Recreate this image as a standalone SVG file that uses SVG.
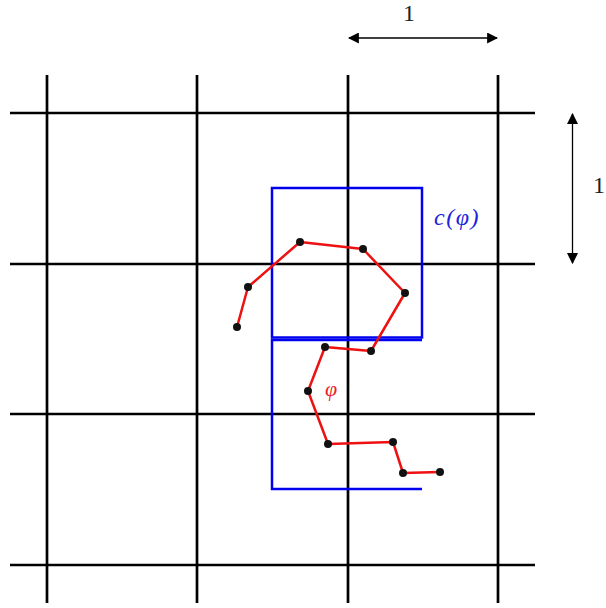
<svg xmlns="http://www.w3.org/2000/svg" width="606" height="608" viewBox="0 0 606 608">
<style>
.grid{stroke:#000;stroke-width:2.7;fill:none}
.blue{stroke:#0000ee;stroke-width:2.5;fill:none}
.red{stroke:#ee1111;stroke-width:2.5;fill:none;stroke-linejoin:round}
.dot{fill:#111}
.dim{stroke:#000;stroke-width:1.3;fill:none}
.t{font-family:"Liberation Serif",serif;font-size:24px;fill:#222}
</style>
<defs>
<marker id="ah" viewBox="0 0 10 10" refX="9" refY="5" markerWidth="11" markerHeight="11" markerUnits="userSpaceOnUse" orient="auto-start-reverse">
<path d="M0,0 L10,5 L0,10 Z" fill="#000"/>
</marker>
</defs>
<rect width="606" height="608" fill="#fff"/>
<g id="grid" class="grid">
<line x1="47" y1="75" x2="47" y2="603"/>
<line x1="197" y1="75" x2="197" y2="603"/>
<line x1="348" y1="75" x2="348" y2="603"/>
<line x1="498" y1="75" x2="498" y2="603"/>
<line x1="10" y1="113" x2="535" y2="113"/>
<line x1="10" y1="264" x2="535" y2="264"/>
<line x1="10" y1="414" x2="535" y2="414"/>
<line x1="10" y1="565" x2="535" y2="565"/>
</g>
<g id="dims">
<line class="dim" x1="349" y1="38" x2="497" y2="38" marker-start="url(#ah)" marker-end="url(#ah)"/>
<text class="t" x="409" y="21" text-anchor="middle">1</text>
<line class="dim" x1="572.5" y1="114" x2="572.5" y2="263" marker-start="url(#ah)" marker-end="url(#ah)"/>
<text class="t" x="599" y="193" text-anchor="middle">1</text>
</g>
<g id="cphi">
<rect class="blue" x="272" y="188" width="150" height="149.5"/>
<path class="blue" d="M422,340 H272 V489 H422"/>
<text x="434" y="225" font-family="Liberation Serif,serif" font-style="italic" font-size="24" letter-spacing="1.5" fill="#2222dd">c(φ)</text>
</g>
<g id="phi">
<polyline class="red" points="237,327 248,287 300,242 363,249 405,293 371,351 325,347 308,391 328,444 393,442 403,473 440,472"/>
<g class="dot">
<circle cx="237" cy="327" r="4"/>
<circle cx="248" cy="287" r="4"/>
<circle cx="300" cy="242" r="4"/>
<circle cx="363" cy="249" r="4"/>
<circle cx="405" cy="293" r="4"/>
<circle cx="371" cy="351" r="4"/>
<circle cx="325" cy="347" r="4"/>
<circle cx="308" cy="391" r="4"/>
<circle cx="328" cy="444" r="4"/>
<circle cx="393" cy="442" r="4"/>
<circle cx="403" cy="473" r="4"/>
<circle cx="440" cy="472" r="4"/>
</g>
<text x="331" y="396" text-anchor="middle" font-family="Liberation Serif,serif" font-style="italic" font-size="22" fill="#ee2222">φ</text>
</g>
</svg>
